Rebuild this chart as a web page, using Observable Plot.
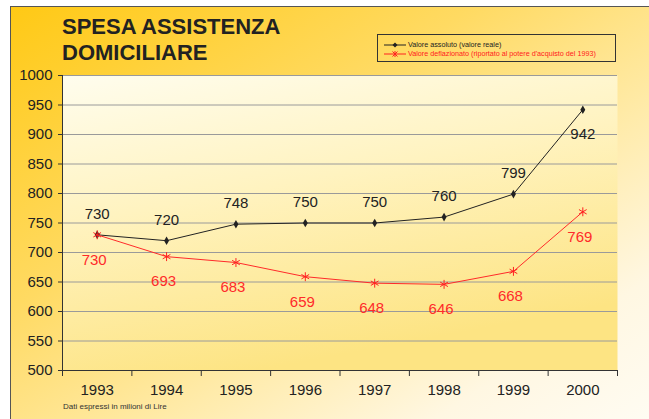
<!DOCTYPE html>
<html>
<head>
<meta charset="utf-8">
<script src="https://cdn.jsdelivr.net/npm/d3@7"></script>
<script src="https://cdn.jsdelivr.net/npm/@observablehq/plot@0.6"></script>
<style>
  html, body { margin: 0; padding: 0; background: #ffffff; }
  #wrap { position: relative; width: 649px; height: 419px; overflow: hidden; background: #fff; font-family: "Liberation Sans", Arial, sans-serif; }
  #panel { position: absolute; left: 10px; top: 6px; width: 660px; height: 430px;
    border-left: 1px solid #555; border-top: 1px solid #555;
    background: linear-gradient(to bottom right, #ffc915 0%, #ffda62 35%, #ffebaa 60%, #fff7e2 80%, #fffdf6 100%); }
  #chart { position: absolute; left: 0; top: 0; }
  #title { position: absolute; left: 62px; top: 14px; font-weight: bold; font-size: 22px; line-height: 26px; color: #222; }
  #legend { position: absolute; left: 377px; top: 34px; width: 239px; height: 28px; border: 1px solid #333; box-sizing: border-box; font-size: 7.2px; }
  .lrow { position: absolute; left: 6px; height: 9px; display: flex; align-items: center; white-space: nowrap; }
  .lrow svg { margin-right: 2px; }
  #caption { position: absolute; left: 63px; top: 402px; font-size: 8px; color: #333; }
</style>
</head>
<body>
<div id="wrap">
  <div id="panel"></div>
  <div id="chart"></div>
  <div id="title">SPESA ASSISTENZA<br>DOMICILIARE</div>
  <div id="legend">
    <div class="lrow" style="top:5px;color:#222">
      <svg width="22" height="8"><line x1="0" y1="4" x2="22" y2="4" stroke="#222" stroke-width="1"/><path d="M11,1.5 L13.5,4 L11,6.5 L8.5,4Z" fill="#222"/></svg>
      <span>Valore assoluto (valore reale)</span>
    </div>
    <div class="lrow" style="top:14px;color:#ff2020">
      <svg width="22" height="8"><line x1="0" y1="4" x2="22" y2="4" stroke="#ff2020" stroke-width="1"/><path d="M8.5,1.5 L13.5,6.5 M13.5,1.5 L8.5,6.5 M11,1 L11,7" stroke="#ff2020" stroke-width="1"/></svg>
      <span>Valore deflazionato (riportato al potere d'acquisto del 1993)</span>
    </div>
  </div>
  <div id="caption">Dati espressi in milioni di Lire</div>
</div>
<script>
const years = [1993, 1994, 1995, 1996, 1997, 1998, 1999, 2000];
const valoreAssoluto = [730, 720, 748, 750, 750, 760, 799, 942];
const valoreDeflazionato = [730, 693, 683, 659, 648, 646, 668, 769];
const yTicks = [500, 550, 600, 650, 700, 750, 800, 850, 900, 950, 1000];

const abs = years.map((y, i) => ({year: y, value: valoreAssoluto[i]}));
const defl = years.map((y, i) => ({year: y, value: valoreDeflazionato[i]}));
const bounds = d3.range(years[0] - 0.5, years[years.length - 1] + 1, 1);

const plot = Plot.plot({
  width: 649,
  height: 419,
  marginTop: 75,
  marginBottom: 49,
  marginLeft: 62,
  marginRight: 32,
  style: {fontFamily: "'Liberation Sans', Arial, sans-serif", fontSize: "15px", background: "transparent", color: "#222", overflow: "visible"},
  x: {domain: [years[0] - 0.5, years[years.length - 1] + 0.5]},
  y: {domain: [500, 1000]},
  marks: [
    Plot.frame({fill: "url(#plotArea)", stroke: "none"}),
    Plot.gridY(yTicks.slice(1), {stroke: "#9a9a9a", strokeOpacity: 1, strokeWidth: 1}),
    Plot.axisY(yTicks, {tickSize: 4, tickPadding: 6, stroke: "#333", label: null, fontSize: 15, tickFormat: d => String(d)}),
    Plot.axisX(years, {tickSize: 0, tickPadding: 14, tickFormat: d => String(d), label: null, fontSize: 15}),
    Plot.axisX(bounds, {tickSize: 6, tickFormat: () => "", stroke: "#333", label: null}),
    Plot.ruleX([bounds[0]], {stroke: "#333"}),
    Plot.ruleY([500], {stroke: "#333"}),
    Plot.line(abs, {x: "year", y: "value", stroke: "#222", strokeWidth: 1}),
    Plot.dot(abs, {x: "year", y: "value", symbol: "diamond", fill: "#222", r: 2.6}),
    Plot.line(defl, {x: "year", y: "value", stroke: "#ff2a2a", strokeWidth: 1}),
    Plot.dot(defl, {x: "year", y: "value", symbol: "asterisk", stroke: "#ff2020", strokeWidth: 1, r: 4.2}),
    Plot.text(abs, {filter: d => d.year !== 2000, x: "year", y: "value", text: d => String(d.value), dy: -21, fill: "#222", fontSize: 15}),
    Plot.text(abs, {filter: d => d.year === 2000, x: "year", y: "value", text: d => String(d.value), dy: 24, fill: "#222", fontSize: 15}),
    Plot.text(defl, {x: "year", y: "value", text: d => String(d.value), dy: 25, dx: -3, fill: "#ff2a2a", fontSize: 15})
  ]
});

const ns = "http://www.w3.org/2000/svg";
const defs = document.createElementNS(ns, "defs");
defs.innerHTML = `<linearGradient id="plotArea" x1="0" y1="0" x2="0.35" y2="1">
  <stop offset="0" stop-color="#fffdee"/>
  <stop offset="0.45" stop-color="#fff3c0"/>
  <stop offset="1" stop-color="#fde483"/>
</linearGradient>`;
plot.insertBefore(defs, plot.firstChild);
document.getElementById("chart").appendChild(plot);
</script>
</body>
</html>
